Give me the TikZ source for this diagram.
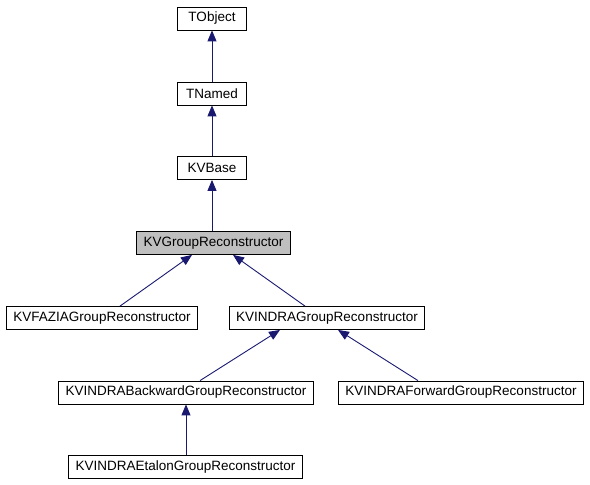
\documentclass[tikz,border=0pt]{standalone}
\usepackage{fontspec}
\setmainfont{Liberation Sans}
\usepackage{xcolor}
\usepackage{tikz}
\usetikzlibrary{arrows,arrows.meta,positioning,shapes,calc}
\definecolor{edgeblue}{HTML}{191970}
\definecolor{curgray}{HTML}{BFBFBF}

\begin{document}
\begin{tikzpicture}[x = 1pt, y = -1pt,
    cls/.style = {draw = black, line width = 0.8pt, fill = white, minimum height = 23pt,
      minimum width = 69pt, inner xsep = 7pt, inner ysep = 0pt,
      font = \fontsize{13.5}{15}\selectfont},
    inherit/.style = {->, >={Triangle[length = 11pt, width = 9pt]}, draw = edgeblue,
      line width = 0.9pt}]
    \useasboundingbox (0,0) rectangle (590,485);
    \node[cls] (tobject) at (212,18.5) {TObject};
    \node[cls] (tnamed) at (212,93.5) {TNamed};
    \node[cls] (kvbase) at (212,168) {KVBase};
    \node[cls, fill = curgray] (kvgroup) at (213.5,243) {KVGroupReconstructor};
    \node[cls] (fazia) at (102,318) {KVFAZIAGroupReconstructor};
    \node[cls] (indra) at (327,318) {KVINDRAGroupReconstructor};
    \node[cls] (backward) at (186,392.5) {KVINDRABackwardGroupReconstructor};
    \node[cls] (forward) at (461,392.5) {KVINDRAForwardGroupReconstructor};
    \node[cls] (etalon) at (185.5,467) {KVINDRAEtalonGroupReconstructor};
        % Inheritance
    \draw[inherit] (tnamed) -- (tobject);
    \draw[inherit] (kvbase) -- (tnamed);
    \draw[inherit] (kvgroup.north -| kvbase) -- (kvbase);
    \draw[inherit] ([xshift = 18pt]fazia.north) -- ([xshift = -21.5pt]kvgroup.south);
    \draw[inherit] ([xshift = -22pt]indra.north) -- ([xshift = 19.5pt]kvgroup.south);
    \draw[inherit] ([xshift = 14pt]backward.north) -- ([xshift = -47pt]indra.south);
    \draw[inherit] ([xshift = -43pt]forward.north) -- ([xshift = 11pt]indra.south);
    \draw[inherit] (etalon.north -| backward) -- (backward);
  \end{tikzpicture}
\end{document}
